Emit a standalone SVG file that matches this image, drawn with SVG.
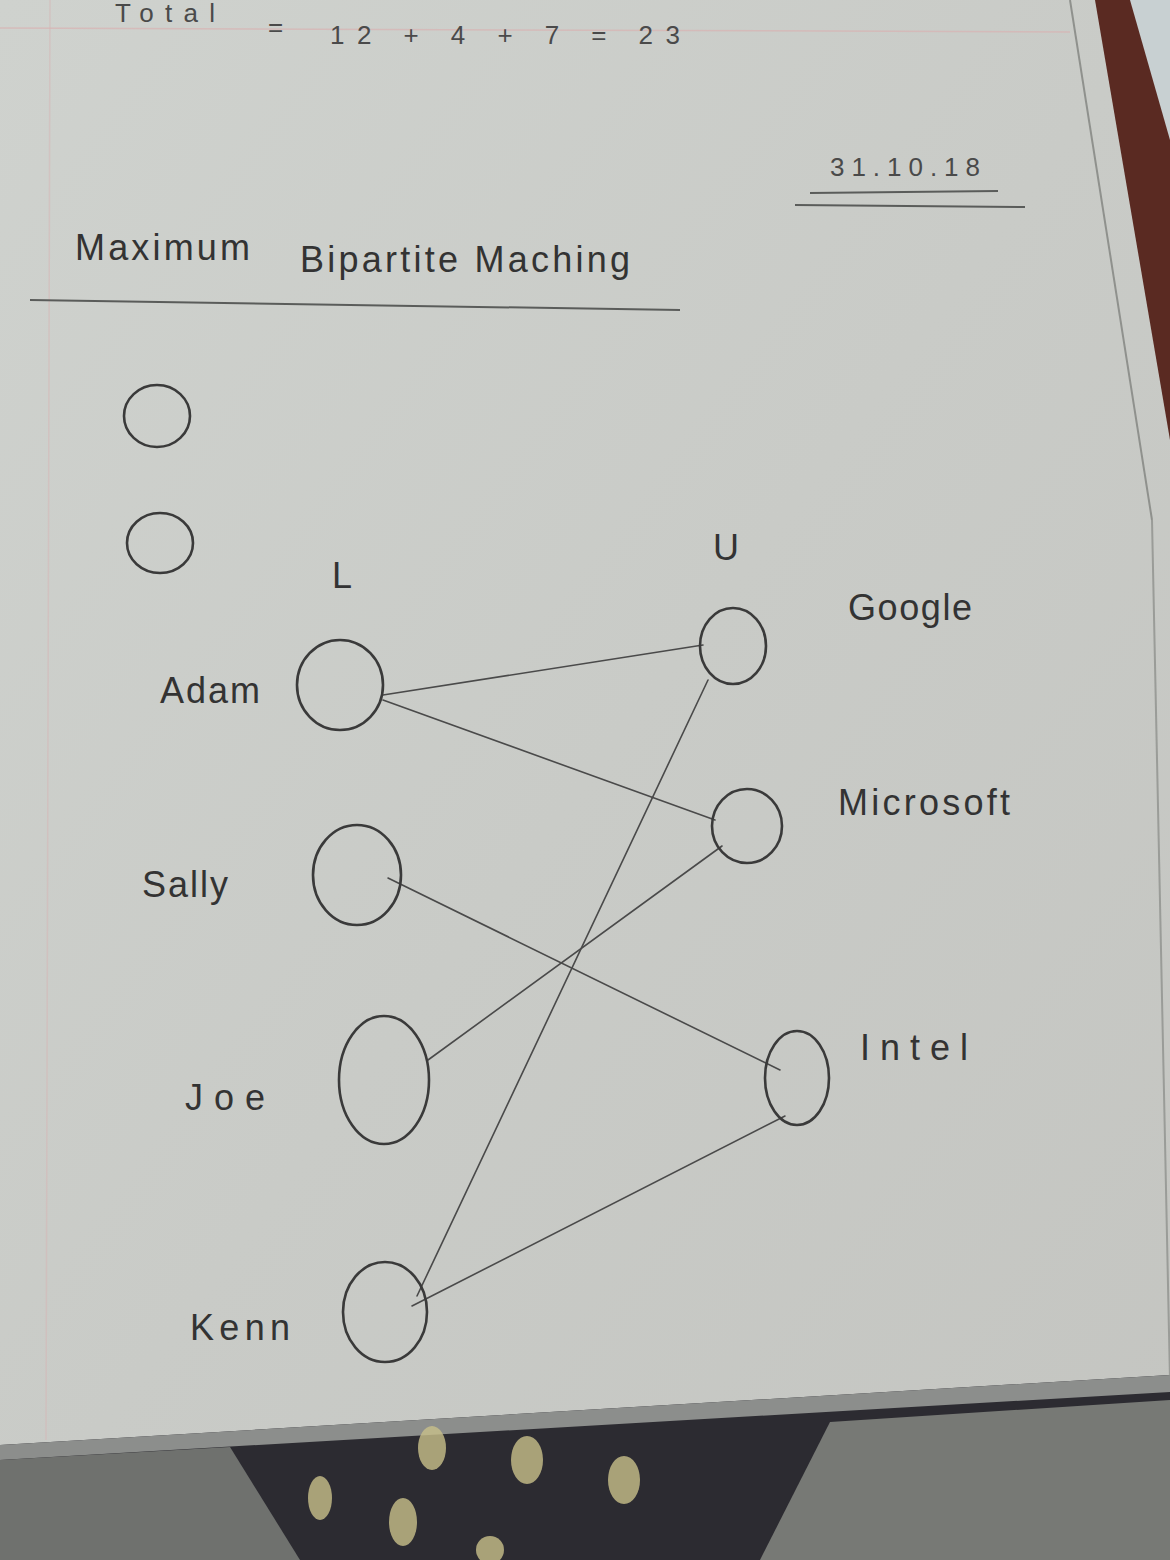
<svg xmlns="http://www.w3.org/2000/svg" width="1170" height="1560" viewBox="0 0 1170 1560">
  <defs>
    <linearGradient id="paper" x1="0" y1="0" x2="1" y2="1">
      <stop offset="0" stop-color="#cfd2ce"/>
      <stop offset="0.5" stop-color="#c9cbc7"/>
      <stop offset="1" stop-color="#c4c5c1"/>
    </linearGradient>
    <style>
      .ink { fill: none; stroke: #3a3a3a; stroke-width: 2.6; stroke-linecap: round; }
      .edge { fill: none; stroke: #4a4a4a; stroke-width: 1.6; stroke-linecap: round; }
      .rule { fill: none; stroke: #5a5c5a; stroke-width: 2; }
      .lbl { font-family: "Liberation Sans", "DejaVu Sans", sans-serif; fill: #333; font-size: 36px; }
      .top { font-family: "Liberation Sans", "DejaVu Sans", sans-serif; fill: #4a4a4a; font-size: 26px; }
    </style>
  </defs>

  <!-- background: paper, page edges, fabric -->
  <rect x="0" y="0" width="1170" height="1560" fill="url(#paper)"/>
  <polygon points="1095,0 1170,0 1170,440" fill="#5a2a22"/>
  <polygon points="1130,0 1170,0 1170,140" fill="#c8d0d2"/>
  <line x1="1070" y1="0" x2="1152" y2="520" stroke="#8f918d" stroke-width="2"/>
  <line x1="1152" y1="520" x2="1170" y2="1380" stroke="#9a9c98" stroke-width="2"/>
  <line x1="0" y1="28" x2="1070" y2="32" stroke="#d9b3b3" stroke-width="1.5" opacity="0.7"/>
  <line x1="50" y1="0" x2="46" y2="1440" stroke="#d6b6b6" stroke-width="1.5" opacity="0.5"/>
  <polygon points="0,1445 1170,1375 1170,1560 0,1560" fill="#2c2b31"/>
  <polygon points="0,1445 1170,1375 1170,1392 0,1460" fill="#8c8e8c"/>
  <polygon points="0,1460 230,1447 300,1560 0,1560" fill="#6f716e"/>
  <polygon points="830,1422 1170,1400 1170,1560 760,1560" fill="#777975"/>
  <g fill="#c9c08a" opacity="0.8">
    <ellipse cx="432" cy="1448" rx="14" ry="22"/>
    <ellipse cx="527" cy="1460" rx="16" ry="24"/>
    <ellipse cx="624" cy="1480" rx="16" ry="24"/>
    <ellipse cx="320" cy="1498" rx="12" ry="22"/>
    <ellipse cx="403" cy="1522" rx="14" ry="24"/>
    <ellipse cx="490" cy="1550" rx="14" ry="14"/>
  </g>

  <!-- header texts -->
  <g id="header">
    <text class="top" x="115" y="22" textLength="100" lengthAdjust="spacing">Total</text>
    <text class="top" x="268" y="36">=</text>
    <text class="top" x="330" y="44" textLength="350" lengthAdjust="spacing">12 + 4 + 7 = 23</text>
    <text class="top" x="830" y="176" font-size="22" textLength="150" lengthAdjust="spacing">31.10.18</text>
    <line class="rule" x1="810" y1="193" x2="998" y2="191"/>
    <line class="rule" x1="795" y1="205" x2="1025" y2="207"/>
    <text class="lbl" x="75" y="260" font-size="30" textLength="175" lengthAdjust="spacing">Maximum</text>
    <text class="lbl" x="300" y="272" font-size="30" textLength="330" lengthAdjust="spacing">Bipartite Maching</text>
    <line class="rule" x1="30" y1="300" x2="680" y2="310"/>
  </g>

  <!-- loose circles and set labels -->
  <g id="extra">
    <ellipse class="ink" cx="157" cy="416" rx="33" ry="31"/>
    <ellipse class="ink" cx="160" cy="543" rx="33" ry="30"/>
    <text class="lbl" id="label-L" x="332" y="588" font-size="34">L</text>
    <text class="lbl" id="label-U" x="713" y="560" font-size="34">U</text>
  </g>

  <!-- connectors -->
  <g id="connectors">
    <line class="edge" x1="383" y1="695" x2="703" y2="645"/>
    <line class="edge" x1="383" y1="700" x2="715" y2="820"/>
    <line class="edge" x1="388" y1="878" x2="780" y2="1070"/>
    <line class="edge" x1="428" y1="1060" x2="722" y2="846"/>
    <line class="edge" x1="417" y1="1296" x2="708" y2="680"/>
    <line class="edge" x1="412" y1="1306" x2="785" y2="1116"/>
  </g>

  <!-- left nodes -->
  <g id="node-adam">
    <ellipse class="ink" cx="340" cy="685" rx="43" ry="45"/>
    <text class="lbl" x="160" y="703" textLength="100" lengthAdjust="spacing">Adam</text>
  </g>
  <g id="node-sally">
    <ellipse class="ink" cx="357" cy="875" rx="44" ry="50"/>
    <text class="lbl" x="142" y="897" textLength="86" lengthAdjust="spacing">Sally</text>
  </g>
  <g id="node-joe">
    <ellipse class="ink" cx="384" cy="1080" rx="45" ry="64"/>
    <text class="lbl" x="185" y="1110" textLength="80" lengthAdjust="spacing">Joe</text>
  </g>
  <g id="node-kenn">
    <ellipse class="ink" cx="385" cy="1312" rx="42" ry="50"/>
    <text class="lbl" x="190" y="1340" textLength="100" lengthAdjust="spacing">Kenn</text>
  </g>

  <!-- right nodes -->
  <g id="node-google">
    <ellipse class="ink" cx="733" cy="646" rx="33" ry="38"/>
    <text class="lbl" x="848" y="620" font-size="34" textLength="124" lengthAdjust="spacing">Google</text>
  </g>
  <g id="node-microsoft">
    <ellipse class="ink" cx="747" cy="826" rx="35" ry="37"/>
    <text class="lbl" x="838" y="815" font-size="32" textLength="172" lengthAdjust="spacing">Microsoft</text>
  </g>
  <g id="node-intel">
    <ellipse class="ink" cx="797" cy="1078" rx="32" ry="47"/>
    <text class="lbl" x="860" y="1060" textLength="108" lengthAdjust="spacing">Intel</text>
  </g>
</svg>
